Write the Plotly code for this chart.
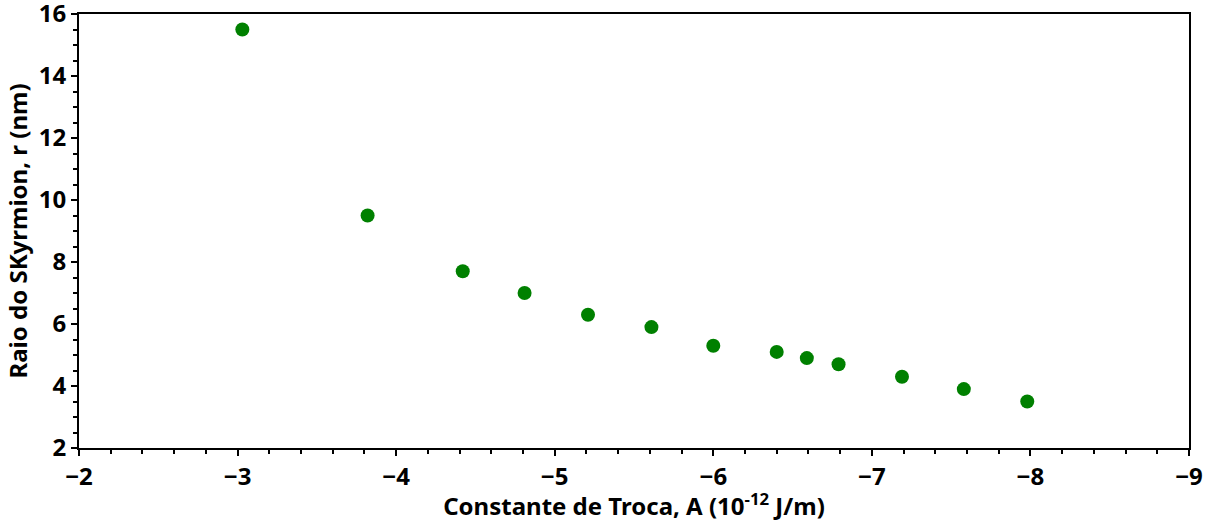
import plotly.graph_objects as go

exchange_A = [-3.03, -3.82, -4.42, -4.81, -5.21, -5.61, -6.0, -6.4, -6.59, -6.79, -7.19, -7.58, -7.98]
radius_nm = [15.5, 9.5, 7.7, 7.0, 6.3, 5.9, 5.3, 5.1, 4.9, 4.7, 4.3, 3.9, 3.5]

x_title = "Constante de Troca, A (10<sup>-12</sup> J/m)"
y_title = "Raio do SKyrmion, r (nm)"

FAM = "Noto Sans"
W = "bold"
fig = go.Figure(go.Scatter(
    x=exchange_A, y=radius_nm, mode="markers",
    marker=dict(color="#008000", size=14, line=dict(width=0)),
))

fig.update_layout(
    width=1215, height=522,
    margin=dict(l=79, r=26, t=14, b=74),
    plot_bgcolor="white", paper_bgcolor="white",
    showlegend=False,
    font=dict(family=FAM, size=24, color="black", weight=W),
)
fig.update_xaxes(
    range=[-2, -9], tickvals=[-2, -3, -4, -5, -6, -7, -8, -9],
    automargin=False, ticklabeloverflow="allow",
    showgrid=False, zeroline=False,
    showline=True, linecolor="black", linewidth=2, mirror=True,
    ticks="outside", ticklen=6, tickwidth=2, tickcolor="black",
    minor=dict(dtick=0.2, ticks="outside", ticklen=4, tickwidth=2, tickcolor="black", showgrid=False),
    tickfont=dict(family=FAM, size=24, weight=W, color="black"),
    title=dict(text=x_title, font=dict(family=FAM, size=24, weight=W, color="black"), standoff=7),
)
fig.update_yaxes(
    range=[2, 16], tickvals=[2, 4, 6, 8, 10, 12, 14, 16],
    automargin=False, ticklabeloverflow="allow",
    showgrid=False, zeroline=False,
    showline=True, linecolor="black", linewidth=2, mirror=True,
    ticks="outside", ticklen=6, tickwidth=2, tickcolor="black",
    minor=dict(dtick=0.5, ticks="outside", ticklen=4, tickwidth=2, tickcolor="black", showgrid=False),
    tickfont=dict(family=FAM, size=24, weight=W, color="black"),
    title=dict(text=y_title, font=dict(family=FAM, size=24, weight=W, color="black"), standoff=4),
)

fig.write_html("out.html")
